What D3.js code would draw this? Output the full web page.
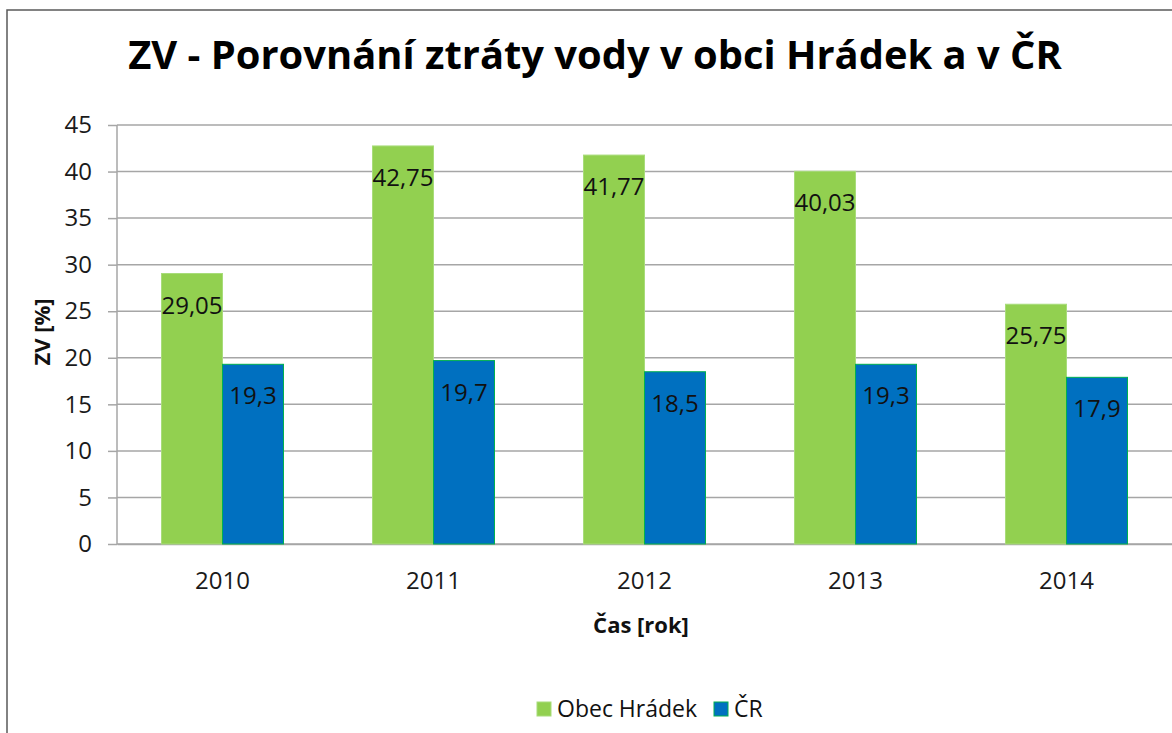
<!DOCTYPE html>
<html lang="cs">
<head>
    <meta charset="UTF-8">
    <title>ZV - Porovnání ztráty vody</title>
    <style>
        body { margin: 0; background: #fff; }
        svg { display: block; font-family: "Open Sans", "Noto Sans", sans-serif; }
    </style>
</head>
<body>
<div id="chart"></div>
<script src="https://cdn.jsdelivr.net/npm/d3@7"></script>
<script>
    // data
    const years = ["2010", "2011", "2012", "2013", "2014"];
    const seriesNames = ["Obec Hrádek", "ČR"];
    const hradek = [29.05, 42.75, 41.77, 40.03, 25.75];
    const cr = [19.3, 19.7, 18.5, 19.3, 17.9];
    const yTicks = [0, 5, 10, 15, 20, 25, 30, 35, 40, 45];
    const colors = ["#92d050", "#0070c0"];
    const strokes = ["#a8dc7a", "#00b050"];

    const width = 1172, height = 733;
    const plot = {left: 117, right: 1172, top: 125, bottom: 544};

    const svg = d3.select("#chart")
        .append("svg")
        .attr("width", width)
        .attr("height", height);

    // chart frame (cropped on right and bottom)
    svg.append("path")
        .attr("d", `M7,${height} V10 H${width}`)
        .attr("fill", "none")
        .attr("stroke", "#595959")
        .attr("stroke-width", 1.5);

    const x0 = d3.scaleBand()
        .domain(years)
        .range([plot.left, plot.right])
        .paddingInner(0.4218)
        .paddingOuter(0.2109);

    const x1 = d3.scaleBand()
        .domain(seriesNames)
        .range([0, x0.bandwidth()]);

    const y = d3.scaleLinear()
        .domain([0, 45])
        .range([plot.bottom, plot.top]);

    // gridlines
    svg.append("g")
        .selectAll("line")
        .data(yTicks)
        .join("line")
        .attr("x1", plot.left)
        .attr("x2", plot.right)
        .attr("y1", d => y(d))
        .attr("y2", d => y(d))
        .attr("stroke", "#a6a6a6")
        .attr("stroke-width", 1.5);

    // y axis
    const yAxis = svg.append("g")
        .attr("transform", `translate(${plot.left},0)`)
        .call(d3.axisLeft(y).tickValues(yTicks).tickSize(9).tickPadding(16));
    yAxis.selectAll("line, path").attr("stroke", "#a6a6a6").attr("stroke-width", 1.5);
    yAxis.select(".domain").attr("d", `M0,${plot.bottom}V${plot.top}`);
    yAxis.selectAll("text")
        .attr("font-size", 24)
        .attr("fill", "#1a1a1a")
        .attr("font-family", "Open Sans");

    // x axis
    const xAxis = svg.append("g")
        .attr("transform", `translate(0,${plot.bottom})`)
        .call(d3.axisBottom(x0).tickSize(0).tickPadding(28));
    xAxis.select(".domain").attr("stroke", "#a6a6a6").attr("stroke-width", 1.5);
    xAxis.selectAll("text")
        .attr("font-size", 24)
        .attr("fill", "#1a1a1a")
        .attr("font-family", "Open Sans");

    // bars
    const rows = years.map((yr, i) => ({year: yr, values: [hradek[i], cr[i]]}));

    const groups = svg.append("g")
        .selectAll("g")
        .data(rows)
        .join("g")
        .attr("transform", d => `translate(${x0(d.year)},0)`);

    groups.selectAll("rect")
        .data(d => d.values.map((v, j) => ({name: seriesNames[j], value: v, j: j})))
        .join("rect")
        .attr("x", d => x1(d.name))
        .attr("y", d => y(d.value))
        .attr("width", x1.bandwidth())
        .attr("height", d => y(0) - y(d.value))
        .attr("fill", d => colors[d.j])
        .attr("stroke", d => strokes[d.j])
        .attr("stroke-width", 1);

    groups.selectAll("text")
        .data(d => d.values.map((v, j) => ({name: seriesNames[j], value: v})))
        .join("text")
        .attr("x", d => x1(d.name) + x1.bandwidth() / 2)
        .attr("y", d => y(d.value) + 40)
        .attr("text-anchor", "middle")
        .attr("font-size", 24)
        .attr("fill", "#111")
        .text(d => String(d.value).replace(".", ","));

    // title
    const title = svg.append("text")
        .attr("x", 595)
        .attr("y", 69)
        .attr("text-anchor", "middle")
        .attr("font-size", 38)
        .attr("font-weight", "bold")
        .attr("fill", "#000")
        .text("ZV - Porovnání ztráty vody v obci Hrádek a v ČR");
    const tw = title.node().getComputedTextLength();
    title.attr("font-size", 38 * 934 / tw);

    // axis titles
    svg.append("text")
        .attr("transform", "translate(50,332) rotate(-90)")
        .attr("text-anchor", "middle")
        .attr("font-size", 22)
        .attr("font-weight", "bold")
        .attr("fill", "#111")
        .text("ZV [%]");

    svg.append("text")
        .attr("x", 641)
        .attr("y", 633)
        .attr("text-anchor", "middle")
        .attr("font-size", 22)
        .attr("font-weight", "bold")
        .attr("fill", "#111")
        .text("Čas [rok]");

    // legend
    const legend = svg.append("g").attr("transform", "translate(537,702)");
    const legendX = [0, 177];
    const items = legend.selectAll("g")
        .data(seriesNames)
        .join("g")
        .attr("transform", (d, i) => `translate(${legendX[i]},0)`);
    items.append("rect")
        .attr("width", 14)
        .attr("height", 14)
        .attr("fill", (d, i) => colors[i])
        .attr("stroke", (d, i) => strokes[i]);
    items.append("text")
        .attr("x", 20)
        .attr("y", 15)
        .attr("font-size", 23)
        .attr("fill", "#111")
        .text(d => d);
</script>
</body>
</html>
